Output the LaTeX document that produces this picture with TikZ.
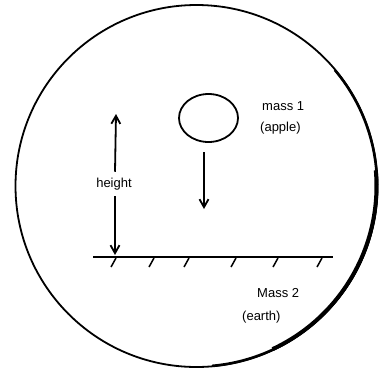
\documentclass[tikz,border=0pt]{standalone}
\usepackage{fontspec}
\setmainfont{Liberation Sans}
\usetikzlibrary{shapes.geometric,arrows.meta}
\begin{document}
\begin{tikzpicture}[x=1pt,y=-1pt,
  ink/.style={draw=black,line width=1.8pt},
  arr/.style={ink,-{Straight Barb[length=8pt,width=9pt,line width=1.8pt]}},
  lbl/.style={font=\fontsize{13}{14}\selectfont,inner sep=0pt,align=center},
  hatchmark/.style={draw=black,line width=1.5pt}]
\useasboundingbox (0,0) rectangle (380,373);
% outer circle
\node[circle,ink,minimum size=362pt,inner sep=0pt] (ring) at (196.5,186) {};
\draw[line width=2.5pt] (196.5,186) ++(-40:180.5) arc[start angle=-40,end angle=85,radius=180.5];
\draw[line width=4pt] (196.5,186) ++(-5:180) arc[start angle=-5,end angle=65,radius=180];
% apple
\node[ellipse,ink,minimum width=59pt,minimum height=48pt,inner sep=0pt] (apple) at (208.5,118) {};
\node[lbl,anchor=west] (m1) at (262,106) {mass 1};
\node[lbl,anchor=west] (m1b) at (260,128) {(apple)};
% falling arrow
\coordinate (fa) at (204,152);
\coordinate (fb) at (204,209);
\draw[arr] (fa) -- (fb);
% ground
\coordinate (g1) at (93,257);
\coordinate (g2) at (333,257);
\draw[ink] (g1) -- (g2);
\foreach \x in {116,154,189,236,278,322}
  \draw[hatchmark] (\x,258) -- (\x-5,267);
\node[lbl,anchor=west] (m2) at (257,293) {Mass 2};
\node[lbl,anchor=west] (m2b) at (242,317) {(earth)};
% height
\node[lbl] (h) at (114,184) {height};
\coordinate (ht) at (116,114);
\coordinate (hb) at (115,255);
\draw[arr] (h.north) ++(1,-6) -- (ht);
\draw[arr] (h.south) ++(1,6) -- (hb);
\end{tikzpicture}
\end{document}
